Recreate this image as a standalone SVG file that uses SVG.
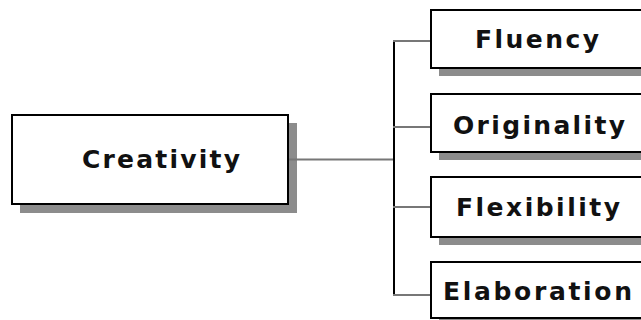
<svg xmlns="http://www.w3.org/2000/svg" width="641" height="320" viewBox="0 0 641 320">
<style>
.shadow{fill:#8c8c8c}
.box{fill:#fff;stroke:#000;stroke-width:2}
.lbl{font-family:"DejaVu Sans","Liberation Sans",sans-serif;font-weight:bold;font-size:25px;fill:#111}
.branch{stroke:#777;stroke-width:2;fill:none}
.trunk{stroke:#000;stroke-width:2;fill:none}
</style>
<rect width="641" height="320" fill="#fff"/>
<g id="creativity">
<rect class="shadow" x="20" y="123" width="277" height="90"/>
<rect class="box" x="12" y="115" width="276" height="89"/>
<text class="lbl" x="82" y="168" textLength="158" lengthAdjust="spacing">Creativity</text>
</g>
<g id="fluency">
<rect class="shadow" x="439" y="18" width="230" height="58"/>
<rect class="box" x="431" y="10" width="230" height="58"/>
<text class="lbl" x="475" y="48" textLength="124" lengthAdjust="spacing">Fluency</text>
</g>
<g id="originality">
<rect class="shadow" x="439" y="102" width="230" height="58"/>
<rect class="box" x="431" y="94" width="230" height="58"/>
<text class="lbl" x="453" y="134" textLength="172" lengthAdjust="spacing">Originality</text>
</g>
<g id="flexibility">
<rect class="shadow" x="439" y="185" width="230" height="60"/>
<rect class="box" x="431" y="177" width="230" height="60"/>
<text class="lbl" x="456" y="216" textLength="164" lengthAdjust="spacing">Flexibility</text>
</g>
<g id="elaboration">
<rect class="shadow" x="439" y="270" width="230" height="57"/>
<rect class="box" x="431" y="262" width="230" height="56"/>
<text class="lbl" x="443" y="300" textLength="189" lengthAdjust="spacing">Elaboration</text>
</g>
<g id="connectors">
<line class="branch" x1="289" y1="159.5" x2="394" y2="159.5"/>
<line class="trunk" x1="394" y1="40" x2="394" y2="296"/>
<line class="branch" x1="393" y1="41" x2="430" y2="41"/>
<line class="branch" x1="393" y1="127" x2="430" y2="127"/>
<line class="branch" x1="393" y1="207" x2="430" y2="207"/>
<line class="branch" x1="393" y1="295" x2="430" y2="295"/>
</g>
</svg>
